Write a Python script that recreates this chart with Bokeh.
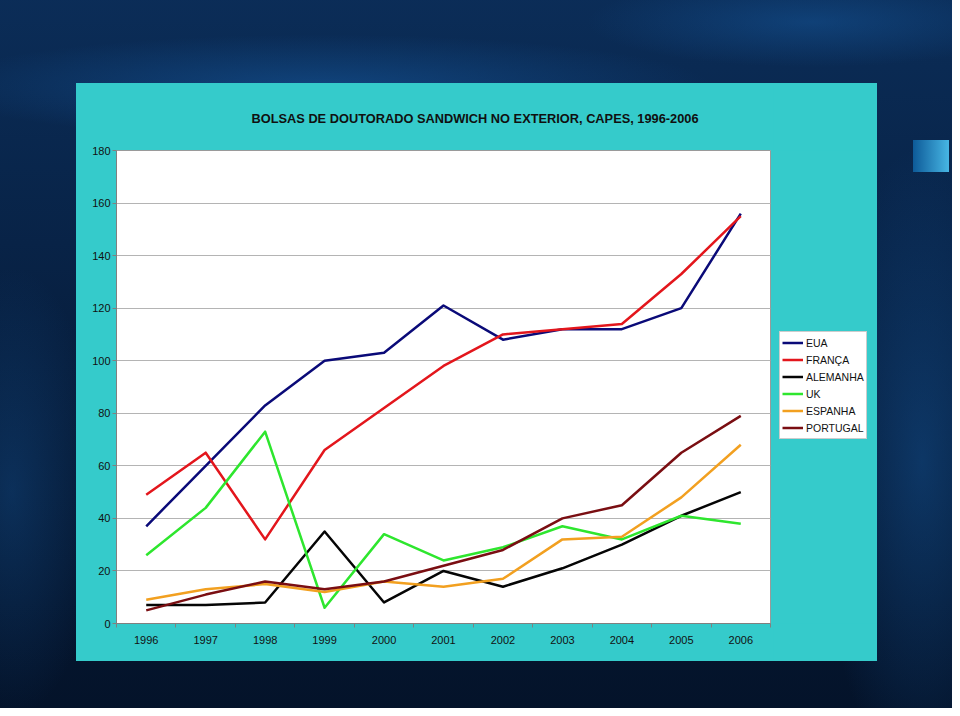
from bokeh.plotting import figure
from bokeh.models import Range1d, FixedTicker, Legend, Spacer
from bokeh.layouts import column, row
from bokeh.embed import file_html
from bokeh.resources import INLINE

# ---- data ----
years = [1996, 1997, 1998, 1999, 2000, 2001, 2002, 2003, 2004, 2005, 2006]
eua = [37, 60, 83, 100, 103, 121, 108, 112, 112, 120, 156]
franca = [49, 65, 32, 66, 82, 98, 110, 112, 114, 133, 155]
alemanha = [7, 7, 8, 35, 8, 20, 14, 21, 30, 41, 50]
uk = [26, 44, 73, 6, 34, 24, 29, 37, 32, 41, 38]
espanha = [9, 13, 15, 12, 16, 14, 17, 32, 33, 48, 68]
portugal = [5, 11, 16, 13, 16, 22, 28, 40, 45, 65, 79]
series_names = ["EUA", "FRANÇA", "ALEMANHA", "UK", "ESPANHA", "PORTUGAL"]
y_ticks = [0, 20, 40, 60, 80, 100, 120, 140, 160, 180]
title_text = "BOLSAS DE DOUTORADO SANDWICH NO EXTERIOR, CAPES, 1996-2006"

series_values = [eua, franca, alemanha, uk, espanha, portugal]
colors = ["#0a0a78", "#e3161c", "#050505", "#2ee62e", "#f2a020", "#7a0e12"]

FONT = "Liberation Sans"
TURQ = "#35CBCB"

p = figure(width=697, height=578,
           x_range=Range1d(years[0] - 0.5, years[-1] + 0.5),
           y_range=Range1d(y_ticks[0], y_ticks[-1]),
           output_backend="svg", toolbar_location=None,
           min_border_left=40, min_border_right=3,
           min_border_top=67, min_border_bottom=38,
           background_fill_color="white", border_fill_color=TURQ,
           outline_line_color="#9a9a9a", outline_line_width=1,
           title=title_text)

p.title.text_font = FONT
p.title.text_font_size = "12.8px"
p.title.text_font_style = "bold"
p.title.text_color = "#101010"
p.title.align = "left"
p.title.offset = 135
if "standoff" in p.title.properties():
    p.title.standoff = 50

# x axis: labels at year centres, small ticks at category boundaries
x_bounds = [y - 0.5 for y in years] + [years[-1] + 0.5]
xa = p.xaxis[0]
xa.ticker = FixedTicker(ticks=years, minor_ticks=x_bounds)
xa.major_tick_in = 0
xa.major_tick_out = 0
xa.minor_tick_in = 0
xa.minor_tick_out = 4
xa.minor_tick_line_color = "#808080"
xa.axis_line_color = "#808080"
xa.major_label_standoff = 8
xa.major_label_text_font = FONT
xa.major_label_text_font_size = "11px"
xa.major_label_text_color = "#111111"

ya = p.yaxis[0]
ya.ticker = FixedTicker(ticks=y_ticks)
ya.major_tick_in = 0
ya.major_tick_out = 4
ya.minor_tick_out = 0
ya.minor_tick_in = 0
ya.major_tick_line_color = "#808080"
ya.axis_line_color = "#808080"
ya.major_label_standoff = 2
ya.major_label_text_font = FONT
ya.major_label_text_font_size = "11px"
ya.major_label_text_color = "#111111"

p.xgrid.visible = False
p.ygrid.ticker = FixedTicker(ticks=y_ticks)
p.ygrid.grid_line_color = "#b4b4b4"
p.ygrid.grid_line_width = 1

for name, vals, color in zip(series_names, series_values, colors):
    p.line(years, vals, line_color=color, line_width=2.5, line_join="round")

# legend panel (turquoise strip to the right of the plot area)
lg = figure(width=104, height=578, output_backend="svg", toolbar_location=None,
            min_border_left=0, min_border_right=0,
            min_border_top=67, min_border_bottom=38,
            x_axis_type=None, y_axis_type=None,
            x_range=Range1d(0, 1), y_range=Range1d(0, 1),
            background_fill_color=TURQ, border_fill_color=TURQ,
            outline_line_color=None)
lg.grid.visible = False
lg_items = []
for name, vals, color in zip(series_names, series_values, colors):
    # same series, outside this strip's visible range: only the legend sample shows
    r = lg.line(years, vals, line_color=color, line_width=2.5)
    lg_items.append((name, [r]))

legend = Legend(items=lg_items, location=(6, 184), orientation="vertical",
                margin=0, padding=2, spacing=0,
                glyph_width=21, glyph_height=17, label_height=17,
                label_standoff=3,
                label_text_font=FONT, label_text_font_size="10.5px",
                label_text_color="#111111",
                background_fill_color="white", background_fill_alpha=1.0,
                border_line_color="#9a9a9a", border_line_width=1)
lg.add_layout(legend, "center")

bg = ("linear-gradient(90deg, #0d5a98, #47b6e4) 921px 148px / 36px 32px no-repeat, "
      "radial-gradient(ellipse 520px 70px at 330px 95px, rgba(22,90,160,0.55), rgba(22,90,160,0) 75%), "
      "radial-gradient(ellipse 300px 60px at 820px 30px, rgba(22,90,160,0.45), rgba(22,90,160,0) 75%), "
      "radial-gradient(ellipse 140px 420px at 930px 470px, rgba(22,90,160,0.45), rgba(22,90,160,0) 75%), "
      "radial-gradient(ellipse 120px 300px at 20px 500px, rgba(22,90,160,0.35), rgba(22,90,160,0) 75%), "
      "linear-gradient(180deg, #0b2d58 0%, #082347 35%, #061a36 65%, #04132a 100%)")

panel = row(p, lg, width=801, height=578, styles={"background-color": TURQ})

layout = column(
    Spacer(width=960, height=91),
    row(Spacer(width=84, height=578), panel),
    width=960, height=716,
    styles={"margin": "-8px", "background": bg},
)

open("out.html", "w").write(file_html(layout, INLINE))
